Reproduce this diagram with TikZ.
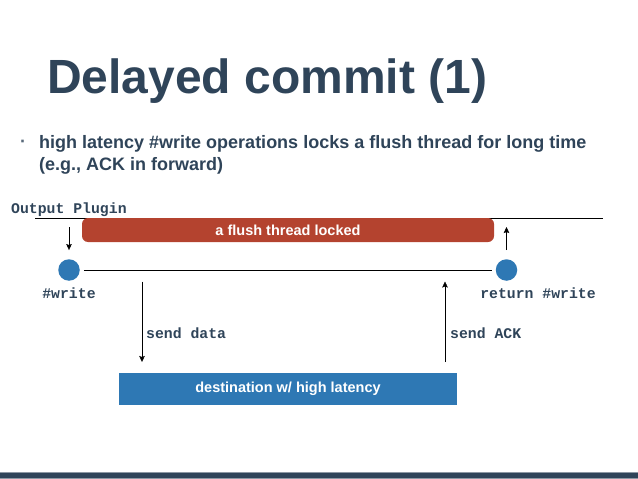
\documentclass[tikz,border=0pt]{standalone}
\usepackage{fontspec}
\setmainfont{Liberation Sans}
\setmonofont{Liberation Mono}
\usetikzlibrary{arrows.meta,positioning}
\definecolor{slate}{HTML}{2F4459}
\definecolor{lockred}{HTML}{B4432F}
\definecolor{dotblue}{HTML}{2E78B4}
\tikzset{
	mono/.style={font=\ttfamily\bfseries\fontsize{14.8}{14.8}\selectfont, text=slate, inner sep=0pt},
	bartext/.style={text=white, inner sep=0pt, font=\bfseries\fontsize{14.5}{14.5}\selectfont},
	dot/.style={circle, fill=dotblue, minimum size=21.5pt, inner sep=0pt},
	flow/.style={thin, -{Stealth[length=6pt,width=5.5pt,inset=1pt]}}
}
\begin{document}
\begin{tikzpicture}[x=1pt,y=-1pt]
					\useasboundingbox (0,0) rectangle (638,479);
					
					\node[anchor=base west, inner sep=0pt, text=slate, font=\bfseries\fontsize{48}{48}\selectfont] (title) at (47,93) {Delayed commit (1)};
					\node[anchor=base, inner sep=0pt, text=slate!80, font=\bfseries\fontsize{18}{18}\selectfont] (bullet) at (23,147.5) {·};
					\node[anchor=base west, inner sep=0pt, text=slate, font=\bfseries\fontsize{18}{18}\selectfont] (point) at (39,148) {high latency \#write operations locks a flush thread for long time};
					\node[anchor=base west, inner sep=0pt, text=slate, font=\bfseries\fontsize{18}{18}\selectfont] (point2) at (39,170) {(e.g., ACK in forward)};
					
					\node[mono, anchor=base west] (plugin) at (11,213) {Output Plugin};
					\coordinate (lineL) at (35,218);
					\coordinate (lineR) at (603,218);
					\draw [semithick] (lineL) -- (lineR);
					\node[bartext, fill=lockred, rounded corners=6pt, minimum width=412pt, minimum height=24pt] (locked) at (288,230) {a flush thread locked};
					
					\node[dot] (write) at (69,270) {};
					\node[dot] (ret) at (506.5,270) {};
					\draw [semithick] ([xshift=4pt]write.east) -- ([xshift=-4pt]ret.west);
					\coordinate (inA) at (69,227);
					\coordinate (outA) at (506.5,227);
					\draw [flow] (inA) -- ([yshift=9pt]write.north);
					\draw [flow] ([yshift=9pt]ret.north) -- (outA);
					\node[mono, anchor=base] (wlabel) at (69,298) {\#write};
					\node[mono, anchor=base] (rlabel) at (538,298) {return \#write};
					
					\node[bartext, fill=dotblue, minimum width=338pt, minimum height=32pt] (dest) at (288,389) {destination w/ high latency};
					\coordinate (sendA) at (142,281.5);
					\coordinate (ackA) at (445,362);
					\draw [flow] (sendA) -- (sendA |- 0,362);
					\draw [flow] (ackA) -- (ackA |- 0,281.5);
					\node[mono, anchor=base west] (sdata) at (146,338) {send data};
					\node[mono, anchor=base west] (sack) at (450,338) {send ACK};
					
					\fill [slate] (0,472) rectangle (638,478);
					\draw [slate!55, thin] (0,472) -- (638,472);
					\fill [slate!55] (0,478) rectangle (638,479);
\end{tikzpicture}
\end{document}
